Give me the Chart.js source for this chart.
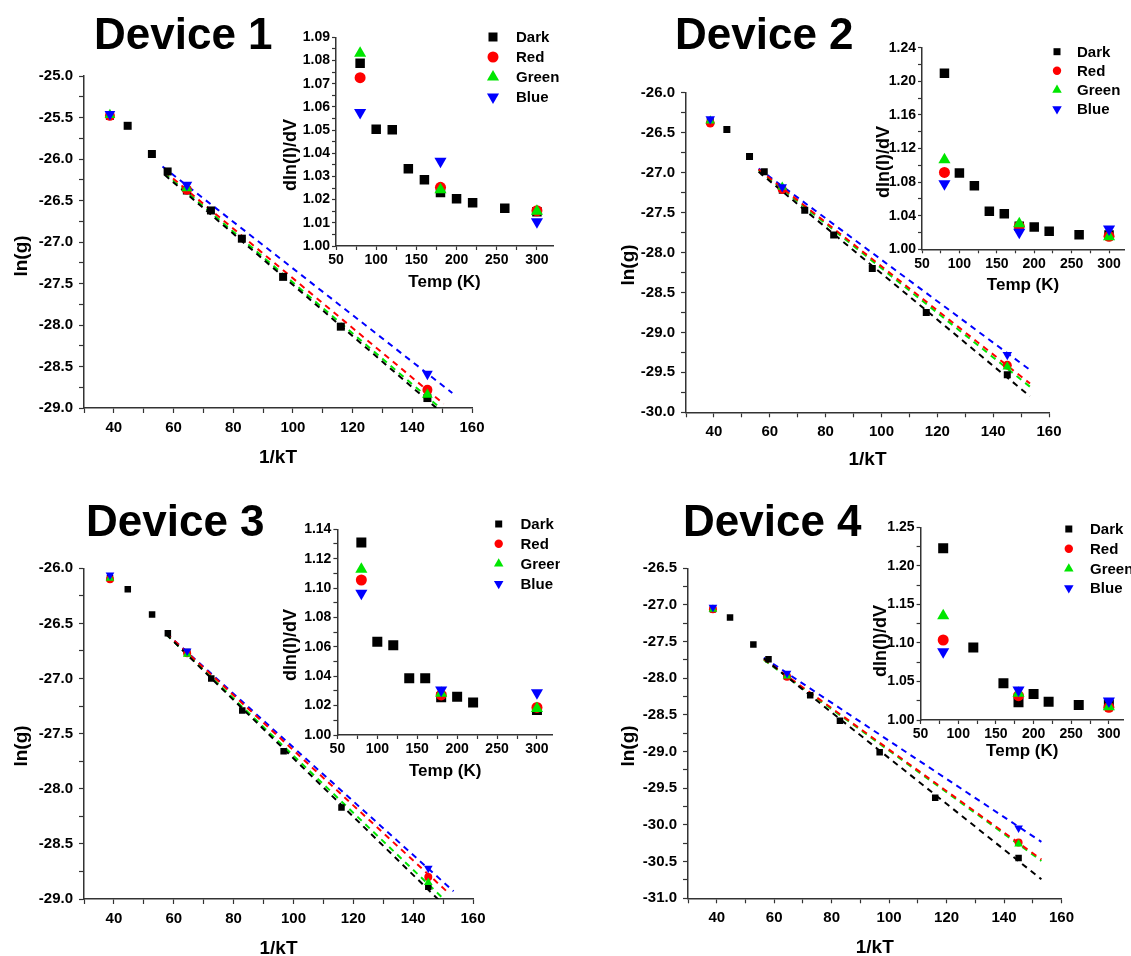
<!DOCTYPE html>
<html>
<head>
<meta charset="utf-8">
<script src="https://cdn.jsdelivr.net/npm/chart.js@4.4.1/dist/chart.umd.min.js"></script>
<style>
  html, body { margin: 0; padding: 0; background: #fff; }
  #page { position: relative; width: 1131px; height: 956px; overflow: hidden; font-family: "Liberation Sans", Arial, sans-serif; }
  canvas { position: absolute; }
  .dev { position: absolute; font-weight: bold; font-size: 44px; line-height: 1; white-space: nowrap; color: #000; }
  .ytitle { position: absolute; font-weight: bold; white-space: nowrap; color: #000; line-height: 1;
            transform: translate(-50%, -50%) rotate(-90deg); }
</style>
</head>
<body>
<div id="page">
  <canvas id="main1"></canvas>
  <canvas id="main2"></canvas>
  <canvas id="main3"></canvas>
  <canvas id="main4"></canvas>
  <canvas id="inset1"></canvas>
  <canvas id="inset2"></canvas>
  <canvas id="inset3"></canvas>
  <canvas id="inset4"></canvas>

  <div class="dev" style="left:94px; top:12px">Device 1</div>
  <div class="dev" style="left:675px; top:12px">Device 2</div>
  <div class="dev" style="left:86px; top:499px">Device 3</div>
  <div class="dev" style="left:683px; top:499px">Device 4</div>

  <div class="ytitle" style="left:20px; top:256px; font-size:19px">ln(g)</div>
  <div class="ytitle" style="left:627px; top:265px; font-size:19px">ln(g)</div>
  <div class="ytitle" style="left:20px; top:746px; font-size:19px">ln(g)</div>
  <div class="ytitle" style="left:627px; top:746px; font-size:19px">ln(g)</div>

  <div class="ytitle" style="left:290px; top:155px; font-size:18px">dln(I)/dV</div>
  <div class="ytitle" style="left:883px; top:162px; font-size:18px">dln(I)/dV</div>
  <div class="ytitle" style="left:290px; top:645px; font-size:18px">dln(I)/dV</div>
  <div class="ytitle" style="left:880px; top:641px; font-size:18px">dln(I)/dV</div>
</div>

<script>
// series: Dark, Red, Green, Blue
const seriesNames = ['Dark', 'Red', 'Green', 'Blue'];
const seriesColors = ['#000000', '#ff0000', '#00e600', '#0000ff'];

// 1/kT for T = 300, 260, 220, 200, 180, 160, 140, 120, 100, 80 K
const invKT = [38.68, 44.63, 52.75, 58.02, 64.47, 72.53, 82.89, 96.71, 116.05, 145.06];
// illuminated points at T = 300, 180, 80 K
const invKTLit = [38.68, 64.47, 145.06];

// ---- ln(g) vs 1/kT ----
const dev1DarkLn  = [-25.48, -25.60, -25.94, -26.15, -26.38, -26.62, -26.96, -27.42, -28.02, -28.88];
const dev1RedLn   = [-25.48, -26.37, -28.78];
const dev1GreenLn = [-25.47, -26.35, -28.84];
const dev1BlueLn  = [-25.46, -26.31, -28.59];

const dev2DarkLn  = [-26.36, -26.46, -26.80, -26.99, -27.22, -27.47, -27.78, -28.20, -28.75, -29.53];
const dev2RedLn   = [-26.38, -27.21, -29.41];
const dev2GreenLn = [-26.35, -27.18, -29.43];
const dev2BlueLn  = [-26.33, -27.18, -29.28];

const dev3DarkLn  = [-26.09, -26.19, -26.42, -26.59, -26.76, -27.00, -27.29, -27.66, -28.17, -28.89];
const dev3RedLn   = [-26.10, -26.77, -28.80];
const dev3GreenLn = [-26.09, -26.78, -28.85];
const dev3BlueLn  = [-26.06, -26.75, -28.72];

const dev4DarkLn  = [-27.06, -27.17, -27.54, -27.74, -27.98, -28.23, -28.58, -29.01, -29.63, -30.45];
const dev4RedLn   = [-27.06, -27.98, -30.24];
const dev4GreenLn = [-27.06, -27.97, -30.26];
const dev4BlueLn  = [-27.03, -27.93, -30.04];

// dashed linear fits, order Dark, Red, Green, Blue: start/end x and y
const dev1FitX0 = [57, 57, 57, 56.3];
const dev1FitX1 = [151, 150.5, 150, 153.4];
const dev1FitY0 = [-26.19, -26.15, -26.17, -26.09];
const dev1FitY1 = [-29.09, -28.95, -29.02, -28.82];

const dev2FitX0 = [56, 56, 56, 56];
const dev2FitX1 = [153.2, 153.2, 153.2, 153.2];
const dev2FitY0 = [-26.99, -26.96, -26.97, -26.95];
const dev2FitY1 = [-29.80, -29.64, -29.68, -29.47];

const dev3FitX0 = [57.5, 57.5, 57.5, 57.5];
const dev3FitX1 = [149, 152, 151, 153.5];
const dev3FitY0 = [-26.60, -26.59, -26.60, -26.59];
const dev3FitY1 = [-29.02, -28.95, -29.02, -28.93];

const dev4FitX0 = [56.4, 56.4, 56.4, 56.4];
const dev4FitX1 = [153, 153, 153, 153];
const dev4FitY0 = [-27.73, -27.74, -27.75, -27.72];
const dev4FitY1 = [-30.74, -30.47, -30.49, -30.23];

// ---- inset: dln(I)/dV vs Temp (K) ----
const tempDark = [80, 100, 120, 140, 160, 180, 200, 220, 260, 300];
const tempDark3 = [80, 100, 120, 140, 160, 180, 200, 220, 300];
const tempDark4 = [80, 120, 160, 180, 200, 220, 260, 300];
const tempLit = [80, 180, 300];

const dev1DarkSlope  = [1.0788, 1.0504, 1.0501, 1.0333, 1.0286, 1.0231, 1.0204, 1.0186, 1.0163, 1.0148];
const dev1RedSlope   = [1.0726, 1.0253, 1.0152];
const dev1GreenSlope = [1.0831, 1.0243, 1.0150];
const dev1BlueSlope  = [1.0576, 1.0365, 1.0105];

const dev2DarkSlope  = [1.2095, 1.0907, 1.0756, 1.0452, 1.0424, 1.0273, 1.0265, 1.0214, 1.0174, 1.0170];
const dev2RedSlope   = [1.0915, 1.0273, 1.0154];
const dev2GreenSlope = [1.1065, 1.0305, 1.0150];
const dev2BlueSlope  = [1.0780, 1.0202, 1.0242];

const dev3DarkSlope  = [1.1310, 1.0634, 1.0611, 1.0386, 1.0386, 1.0257, 1.0261, 1.0222, 1.0170];
const dev3RedSlope   = [1.1055, 1.0273, 1.0188];
const dev3GreenSlope = [1.1128, 1.0284, 1.0181];
const dev3BlueSlope  = [1.0964, 1.0306, 1.0288];

const dev4DarkSlope  = [1.2228, 1.0939, 1.0476, 1.0229, 1.0337, 1.0238, 1.0195, 1.0200];
const dev4RedSlope   = [1.1038, 1.0316, 1.0164];
const dev4GreenSlope = [1.1354, 1.0346, 1.0173];
const dev4BlueSlope  = [1.0887, 1.0389, 1.0246];

// ---------------------------------------------------------------
const FONT = '"Liberation Sans", Arial, sans-serif';
const AXIS = '#333333';
const styles = ['rect', 'circle', 'triangle', 'triangle'];
const rotations = [0, 0, 0, 180];

function pts(xs, ys) {
  return xs.map((x, i) => ({ x: x, y: ys[i] }));
}

function scatterSets(xsList, ysList, sizes) {
  // sizes: [square side, circle r, triangle r]
  const radii = [sizes[0] / Math.SQRT2, sizes[1], sizes[2], sizes[2]];
  return ysList.map((ys, i) => ({
    label: seriesNames[i],
    data: pts(xsList[i], ys),
    showLine: false,
    pointStyle: styles[i],
    rotation: rotations[i],
    pointRadius: radii[i],
    pointBorderWidth: 0,
    backgroundColor: seriesColors[i],
    borderColor: seriesColors[i],
    order: 4 - i
  }));
}

function fitSets(x0, x1, y0, y1) {
  return seriesColors.map((c, i) => ({
    label: seriesNames[i] + ' fit',
    data: [{ x: x0[i], y: y0[i] }, { x: x1[i], y: y1[i] }],
    showLine: true,
    pointRadius: 0,
    borderColor: c,
    borderWidth: 2,
    borderDash: [6, 5],
    order: 10 + i
  }));
}

function drawMarker(ctx, style, x, y, r, color) {
  ctx.save();
  ctx.fillStyle = color;
  ctx.beginPath();
  if (style === 'rect') {
    ctx.rect(x - r, y - r, 2 * r, 2 * r);
  } else if (style === 'circle') {
    ctx.arc(x, y, r, 0, Math.PI * 2);
  } else if (style === 'up') {
    ctx.moveTo(x, y - r); ctx.lineTo(x + r * 0.866, y + r / 2); ctx.lineTo(x - r * 0.866, y + r / 2);
    ctx.closePath();
  } else {
    ctx.moveTo(x, y + r); ctx.lineTo(x + r * 0.866, y - r / 2); ctx.lineTo(x - r * 0.866, y - r / 2);
    ctx.closePath();
  }
  ctx.fill();
  ctx.restore();
}

// legend drawn inside the inset, positions in page coords
function legendPlugin(box, lg) {
  return {
    id: 'insetLegend',
    afterDraw(chart) {
      const ctx = chart.ctx;
      const marks = ['rect', 'circle', 'up', 'down'];
      const rs = [lg.sq, lg.circ, lg.tri, lg.tri];
      ctx.save();
      ctx.font = 'bold 15px ' + FONT;
      ctx.textBaseline = 'middle';
      ctx.fillStyle = '#000';
      seriesNames.forEach((name, i) => {
        const y = lg.rows[i] - box.y;
        drawMarker(ctx, marks[i], lg.mx - box.x, y, rs[i], seriesColors[i]);
        ctx.fillStyle = '#000';
        ctx.fillText(name, lg.lx - box.x, y + 1);
      });
      ctx.restore();
    }
  };
}

function makeChart(id, box, area, xAx, yAx, xTitle, datasets, legend) {
  const canvas = document.getElementById(id);
  canvas.width = box.w;
  canvas.height = box.h;
  canvas.style.left = box.x + 'px';
  canvas.style.top = box.y + 'px';
  const yWidth = area.l - box.x;
  const xHeight = box.y + box.h - area.b;
  const titlePad = box.y + box.h - xTitle.y - xTitle.size * 1.2 / 2;
  const tickFont = { family: FONT, size: xAx.font, weight: 'bold' };

  return new Chart(canvas, {
    type: 'scatter',
    data: { datasets: datasets },
    options: {
      responsive: false,
      animation: false,
      devicePixelRatio: 1,
      layout: { padding: { left: 0, top: area.t - box.y, right: box.x + box.w - area.r, bottom: 0 } },
      plugins: { legend: { display: false }, tooltip: { enabled: false } },
      scales: {
        x: {
          type: 'linear', position: 'bottom',
          min: xAx.min, max: xAx.max,
          border: { display: true, color: AXIS, width: 1.5 },
          grid: { drawOnChartArea: false, drawTicks: true, tickLength: xAx.tick, tickColor: AXIS, tickWidth: 1.2 },
          ticks: {
            stepSize: xAx.step, autoSkip: false, maxRotation: 0, includeBounds: false,
            padding: xAx.pad, color: '#000', font: tickFont, callback: xAx.label
          },
          title: {
            display: true, text: xTitle.text, color: '#000',
            font: { family: FONT, size: xTitle.size, weight: 'bold' },
            padding: { top: 0, bottom: titlePad }
          },
          afterFit: s => { s.height = xHeight; }
        },
        y: {
          type: 'linear', position: 'left',
          min: yAx.min, max: yAx.max,
          border: { display: true, color: AXIS, width: 1.5 },
          grid: { drawOnChartArea: false, drawTicks: true, tickLength: yAx.tick, tickColor: AXIS, tickWidth: 1.2 },
          ticks: {
            stepSize: yAx.step, autoSkip: false, includeBounds: false,
            padding: yAx.pad, color: '#000', font: tickFont, callback: yAx.label
          },
          afterFit: s => { s.width = yWidth; }
        }
      }
    },
    plugins: legend ? [legendPlugin(box, legend)] : []
  });
}

// tick label helpers
const mainXLabel = v => (v >= 40 && v % 20 === 0) ? String(v) : '';
const mainYLabel = v => (Math.round(v * 100) % 50 === 0) ? v.toFixed(1) : '';
const insetXLabel = v => (v % 50 === 0) ? String(v) : '';
function insetYLabel(every) {
  const e = Math.round(every * 1000);
  return v => (Math.round(v * 1000) % e === 0) ? v.toFixed(2) : '';
}

const mainX = { min: 30, max: 160, step: 10, tick: 5, pad: 6, font: 15, label: mainXLabel };
const insetX = { min: 50, max: 320, step: 25, tick: 4, pad: 2, font: 14, label: insetXLabel };
function mainY(min, max) { return { min: min, max: max, step: 0.25, tick: 5, pad: 6, font: 15, label: mainYLabel }; }
function insetY(min, max, step, every) { return { min: min, max: max, step: step, tick: 4, pad: 2, font: 14, label: insetYLabel(every) }; }

function mainSets(dark, red, green, blue, fx0, fx1, fy0, fy1, sizes) {
  return fitSets(fx0, fx1, fy0, fy1).concat(
    scatterSets([invKT, invKTLit, invKTLit, invKTLit], [dark, red, green, blue], sizes));
}
function insetSets(temps, dark, red, green, blue, sizes) {
  return scatterSets([temps, tempLit, tempLit, tempLit], [dark, red, green, blue], sizes);
}

// ---- Device 1 ----
makeChart('main1', { x: 0, y: 50, w: 560, h: 430 }, { l: 84, t: 76, r: 472, b: 408 },
  mainX, mainY(-29, -25), { text: '1/kT', size: 19, y: 458 },
  mainSets(dev1DarkLn, dev1RedLn, dev1GreenLn, dev1BlueLn, dev1FitX0, dev1FitX1, dev1FitY0, dev1FitY1, [8, 5, 6.2]));
makeChart('inset1', { x: 260, y: 20, w: 300, h: 280 }, { l: 336, t: 37.3, r: 557.4, b: 246 },
  insetX, insetY(1.00, 1.09, 0.005, 0.01), { text: 'Temp (K)', size: 17, y: 282 },
  insetSets(tempDark, dev1DarkSlope, dev1RedSlope, dev1GreenSlope, dev1BlueSlope, [9.5, 5.5, 7]),
  { mx: 493, lx: 516, rows: [37, 57, 77, 97], sq: 4.5, circ: 5.5, tri: 7 });

// ---- Device 2 ----
makeChart('main2', { x: 560, y: 60, w: 571, h: 420 }, { l: 686, t: 92.7, r: 1049, b: 412.3 },
  mainX, mainY(-30, -26), { text: '1/kT', size: 19, y: 460 },
  mainSets(dev2DarkLn, dev2RedLn, dev2GreenLn, dev2BlueLn, dev2FitX0, dev2FitX1, dev2FitY0, dev2FitY1, [7, 4.5, 5.5]));
makeChart('inset2', { x: 840, y: 30, w: 291, h: 270 }, { l: 922, t: 47.7, r: 1127.2, b: 249.3 },
  insetX, insetY(1.00, 1.24, 0.02, 0.04), { text: 'Temp (K)', size: 17, y: 285 },
  insetSets(tempDark, dev2DarkSlope, dev2RedSlope, dev2GreenSlope, dev2BlueSlope, [9.5, 5.5, 7]),
  { mx: 1057, lx: 1077, rows: [51.7, 70.7, 90, 109], sq: 3.5, circ: 4.2, tri: 5.5 });

// ---- Device 3 ----
makeChart('main3', { x: 0, y: 545, w: 560, h: 411 }, { l: 84, t: 568.3, r: 473, b: 899 },
  mainX, mainY(-29, -26), { text: '1/kT', size: 19, y: 949 },
  mainSets(dev3DarkLn, dev3RedLn, dev3GreenLn, dev3BlueLn, dev3FitX0, dev3FitX1, dev3FitY0, dev3FitY1, [6.5, 4, 5]));
makeChart('inset3', { x: 260, y: 510, w: 300, h: 280 }, { l: 337.4, t: 529.3, r: 557.3, b: 735 },
  insetX, insetY(1.00, 1.14, 0.01, 0.02), { text: 'Temp (K)', size: 17, y: 771.7 },
  insetSets(tempDark3, dev3DarkSlope, dev3RedSlope, dev3GreenSlope, dev3BlueSlope, [10, 5.5, 7]),
  { mx: 498.7, lx: 520.5, rows: [524, 543.7, 563.7, 583.7], sq: 3.5, circ: 4.2, tri: 5.5 });

// ---- Device 4 ----
makeChart('main4', { x: 560, y: 545, w: 571, h: 411 }, { l: 688, t: 568.3, r: 1061.5, b: 898.3 },
  mainX, mainY(-31, -26.5), { text: '1/kT', size: 19, y: 948 },
  mainSets(dev4DarkLn, dev4RedLn, dev4GreenLn, dev4BlueLn, dev4FitX0, dev4FitX1, dev4FitY0, dev4FitY1, [6.5, 4, 5]));
makeChart('inset4', { x: 840, y: 510, w: 291, h: 260 }, { l: 920.6, t: 527.3, r: 1125.8, b: 720 },
  insetX, insetY(1.00, 1.25, 0.025, 0.05), { text: 'Temp (K)', size: 17, y: 751 },
  insetSets(tempDark4, dev4DarkSlope, dev4RedSlope, dev4GreenSlope, dev4BlueSlope, [10, 5.5, 7]),
  { mx: 1068.8, lx: 1090, rows: [529, 548.7, 568.7, 588], sq: 3.5, circ: 4.2, tri: 5.5 });
</script>
</body>
</html>
